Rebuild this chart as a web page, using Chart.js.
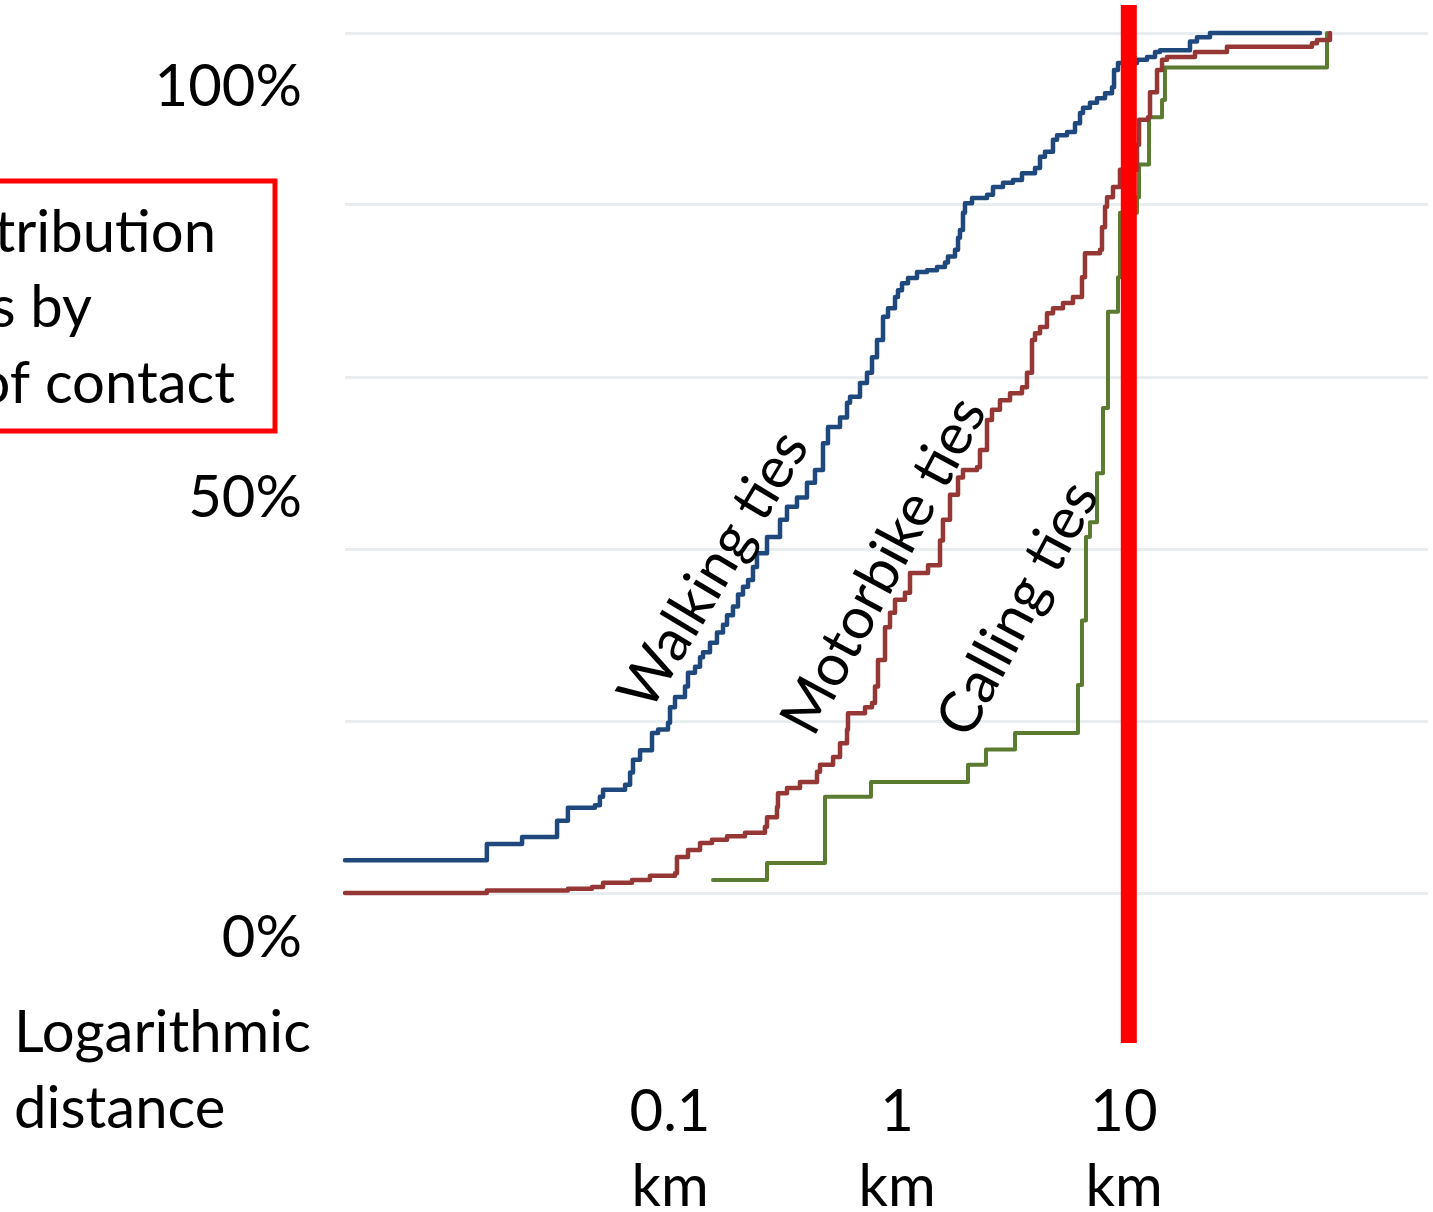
<!DOCTYPE html>
<html>
<head>
<meta charset="utf-8">
<script src="https://cdn.jsdelivr.net/npm/chart.js@4.4.1/dist/chart.umd.min.js"></script>
<style>
  html, body { margin: 0; padding: 0; background: #fff; }
</style>
</head>
<body>
<canvas id="cdf" width="1433" height="1212"></canvas>
<script>
// distance (km) where each step lands, and the cumulative share (%) after it
var walkingKm = [0.0037, 0.0156, 0.0223, 0.0318, 0.0355, 0.0467, 0.0491, 0.0507, 0.0634, 0.0667,
  0.0687, 0.0738, 0.0833, 0.0886, 0.098, 0.1, 0.1052, 0.1164, 0.12, 0.1289,
  0.1356, 0.1398, 0.15, 0.161, 0.1712, 0.1783, 0.1894, 0.1993, 0.2097, 0.2207,
  0.232, 0.2416, 0.2675, 0.3052, 0.3276, 0.3626, 0.4012, 0.4352, 0.472, 0.4966,
  0.561, 0.6023, 0.621, 0.687, 0.7375, 0.776, 0.8164, 0.8677, 0.9128, 0.98,
  1.01, 1.052, 1.118, 1.225, 1.356, 1.5, 1.627, 1.677, 1.801, 1.857,
  1.894, 1.953, 1.993, 2.14, 2.492, 2.648, 2.931, 3.243, 3.553, 4.055,
  4.266, 4.487, 4.866, 5.07, 5.61, 6.083, 6.4, 6.6, 7.08, 7.605,
  8.25, 8.855, 9.04, 9.41, 11.41, 12.63, 13.7, 14.41, 19.53, 20.97,
  23.92, 73.0];
var walkingPct = [3.8, 5.7, 6.5, 8.4, 9.9, 10.2, 11.2, 12.0, 12.6, 14.0,
  15.5, 16.6, 18.6, 19.0, 19.8, 21.6, 22.8, 24.0, 25.6, 26.3,
  27.4, 28.0, 29.1, 30.3, 31.2, 32.3, 33.3, 34.7, 35.6, 36.4,
  37.9, 39.5, 41.4, 43.4, 44.9, 46.0, 47.7, 49.2, 52.3, 54.2,
  55.3, 57.0, 57.7, 59.3, 60.5, 62.3, 64.3, 67.0, 68.0, 69.3,
  70.1, 70.9, 71.5, 72.2, 72.4, 72.8, 73.3, 74.0, 74.8, 76.2,
  77.1, 79.1, 80.2, 80.8, 81.2, 82.1, 82.6, 82.9, 83.7, 84.3,
  85.6, 86.2, 87.6, 88.1, 88.5, 89.5, 90.7, 91.3, 91.9, 92.4,
  93.0, 93.7, 95.7, 96.5, 96.9, 97.2, 97.8, 98.0, 99.0, 99.5,
  100, 100];

var motorbikeKm = [0.0037, 0.0156, 0.0355, 0.0453, 0.0507, 0.068, 0.0816, 0.1052, 0.1073, 0.12,
  0.1356, 0.1531, 0.1783, 0.214, 0.262, 0.2675, 0.296, 0.299, 0.3276, 0.3738,
  0.4442, 0.4579, 0.5228, 0.561, 0.6023, 0.6083, 0.7228, 0.776, 0.8, 0.8246,
  0.8855, 0.9314, 0.98, 1.084, 1.141, 1.37, 1.547, 1.594, 1.712, 1.857,
  1.953, 2.251, 2.32, 2.492, 2.621, 2.842, 3.147, 3.553, 3.738, 3.933,
  4.055, 4.266, 4.579, 4.866, 5.385, 5.96, 6.53, 6.73, 7.84, 8.0,
  8.25, 8.42, 8.944, 9.6, 11.41, 11.65, 12.76, 13.02, 13.98, 14.71,
  15.47, 20.55, 28.42, 67.3, 70.8, 80.8];
var motorbikePct = [0.0, 0.3, 0.5, 0.7, 1.2, 1.5, 2.0, 2.3, 4.2, 5.0,
  5.8, 6.2, 6.6, 7.0, 7.7, 8.8, 10.0, 11.6, 12.2, 12.9,
  14.1, 14.9, 15.8, 17.4, 19.0, 20.9, 21.6, 22.1, 24.0, 27.1,
  30.9, 32.6, 34.1, 34.9, 37.2, 38.1, 41.0, 43.4, 46.3, 48.3,
  49.2, 49.5, 51.5, 55.0, 56.2, 57.3, 58.1, 58.8, 60.5, 64.3,
  65.1, 65.8, 67.4, 68.0, 68.6, 69.3, 71.6, 74.4, 74.8, 77.4,
  79.8, 80.9, 82.1, 84.1, 87.0, 89.9, 90.2, 93.1, 95.7, 96.9,
  97.2, 97.8, 98.4, 98.8, 99.2, 100];

var callingKm = [0.1547, 0.2675, 0.4817, 0.768, 2.055, 2.466, 3.311, 6.27, 6.53, 6.8,
  7.08, 7.605, 8.08, 8.5, 9.41, 9.6, 11.41, 11.65, 12.89, 14.71,
  15.15, 78.4];
var callingPct = [1.5, 3.5, 11.2, 12.9, 14.9, 16.7, 18.6, 24.2, 31.7, 41.4,
  43.1, 48.8, 56.4, 67.6, 71.6, 79.1, 80.9, 84.7, 90.2, 92.2,
  96.0, 100];

var tickKm = [0.1, 1, 10];
var yLabels = ['100%', '50%', '0%'];
var markerKm = 10.5;

var FONT = '58px Lato';

function toPoints(km, pct) {
  var pts = [];
  for (var i = 0; i < km.length; i++) {
    pts.push({x: km[i], y: pct[i]});
  }
  return pts;
}

// text boxes, the rotated series names and the red 10 km marker
var annotations = {
  id: 'annotations',
  afterDatasetsDraw: function(chart) {
    var ctx = chart.ctx;
    var xs = chart.scales.x;
    ctx.save();

    var rx = xs.getPixelForValue(markerKm);
    ctx.fillStyle = '#ff0000';
    ctx.fillRect(rx - 8, 5, 16, 1038);

    ctx.fillStyle = '#000';
    ctx.font = FONT;
    ctx.textBaseline = 'alphabetic';

    ctx.textAlign = 'right';
    ctx.fillText(yLabels[0], 302, 106);
    ctx.fillText(yLabels[1], 302, 517);
    ctx.fillText(yLabels[2], 302, 957);

    ctx.textAlign = 'left';
    ctx.fillText('Logarithmic', 14, 1052);
    ctx.fillText('distance', 14, 1128);

    // cut-off note box on the left
    ctx.strokeStyle = '#ff0000';
    ctx.lineWidth = 5;
    ctx.strokeRect(-20, 181, 295, 250);
    ctx.textAlign = 'right';
    ctx.fillText('tribution', 216, 252);
    ctx.fillText('s by', 92, 327);
    ctx.fillText('of contact', 235, 403);

    var names = [
      ['Walking ties', 714, 570, -59],
      ['Motorbike ties', 884, 566, -62],
      ['Calling ties', 1018, 609, -62]
    ];
    ctx.textAlign = 'center';
    ctx.textBaseline = 'middle';
    names.forEach(function(n) {
      ctx.save();
      ctx.translate(n[1], n[2]);
      ctx.rotate(n[3] * Math.PI / 180);
      ctx.fillText(n[0], 0, 0);
      ctx.restore();
    });

    ctx.restore();
  }
};

var ctx = document.getElementById('cdf');
var cdfChart = new Chart(ctx, {
  type: 'line',
  data: {
    datasets: [{
      label: 'Walking ties',
      data: toPoints(walkingKm, walkingPct),
      borderColor: '#1f497d',
      borderWidth: 4.5
    }, {
      label: 'Motorbike ties',
      data: toPoints(motorbikeKm, motorbikePct),
      borderColor: '#953735',
      borderWidth: 4.5
    }, {
      label: 'Calling ties',
      data: toPoints(callingKm, callingPct),
      borderColor: '#5b7b31',
      borderWidth: 4
    }]
  },
  options: {
    responsive: false,
    animation: false,
    parsing: false,
    layout: {
      padding: {left: 345, right: 5, top: 33, bottom: 0}
    },
    elements: {
      line: {stepped: true, tension: 0, fill: false, borderJoinStyle: 'round', borderCapStyle: 'round'},
      point: {radius: 0, hoverRadius: 0}
    },
    datasets: {
      line: {clip: 8}
    },
    plugins: {
      legend: {display: false},
      tooltip: {enabled: false}
    },
    scales: {
      x: {
        type: 'logarithmic',
        min: 0.0037,
        max: 218.4,
        border: {display: false},
        grid: {display: false, drawTicks: false},
        afterBuildTicks: function(scale) {
          scale.ticks = tickKm.map(function(v) { return {value: v}; });
        },
        afterFit: function(scale) {
          scale.height = 319;
        },
        ticks: {
          autoSkip: false,
          maxRotation: 0,
          padding: 182,
          color: '#000',
          font: {family: 'Lato', size: 58, lineHeight: 1.293},
          callback: function(value) {
            return [String(value), 'km'];
          }
        }
      },
      y: {
        min: 0,
        max: 100,
        border: {display: false},
        grid: {color: '#e8eef0', lineWidth: 3, drawTicks: false},
        afterFit: function(scale) {
          scale.width = 0;
        },
        ticks: {stepSize: 20, display: false}
      }
    }
  },
  plugins: [annotations]
});
</script>
</body>
</html>
